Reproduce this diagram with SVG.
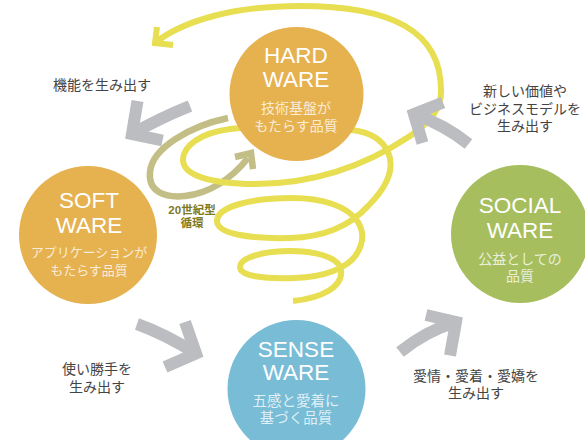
<svg xmlns="http://www.w3.org/2000/svg" width="585" height="440" viewBox="0 0 585 440">
<style>
.bg{fill:#fff}
.ga{fill:none;stroke:#BCBDC1;stroke-width:12;stroke-linejoin:miter;stroke-miterlimit:10}
.yl{fill:none;stroke:#E8DE52;stroke-width:6;stroke-linejoin:miter}
.ol{fill:none;stroke:#C3BD86;stroke-width:6.5;stroke-linejoin:miter}
.t{font-family:"Liberation Sans",Arial,"Noto Sans CJK JP",sans-serif;font-size:22.5px;fill:#fff;text-anchor:middle}
.s{font-family:"Noto Sans CJK JP",sans-serif;font-size:14px;fill:#fff;fill-opacity:0.78;text-anchor:middle}
.l{font-family:"Noto Sans CJK JP",sans-serif;font-size:14px;fill:#444;text-anchor:middle}
.o{font-family:"Liberation Sans","Noto Sans CJK JP",sans-serif;font-size:11.5px;font-weight:bold;fill:#7E7A1E;text-anchor:middle}
</style>
<rect class="bg" x="0" y="0" width="585" height="440"/>
<g id="connectors">
  <g id="olive-cycle">
    <path class="ol" d="M228,118 C190,126 152,148 150,172 C148,192 165,198 185,196 C210,193 232,178 248,158"/>
    <polyline class="ol" points="235,157 251,153 253,169"/>
  </g>
  <g id="spiral">
    <path class="yl" d="M293,301 C322,298 343,287 341,270 C339,256 312,251 290,251 C262,251 240,258 240,267 C240,276 262,279 295,278 C325,277 347,268 356,255 C364,243 364,232 358,222 C348,206 322,198 292,198 C250,198 217,207 217,221 C217,234 250,239 290,238 C325,237 350,226 368,206 C387,187 395,168 388,152 C382,139 368,132 352,130 C320,127 255,126 230,129 C200,133 183,146 183,160 C183,175 210,184 255,184 C310,184 362,168 410,136 C432,121 441,108 441,92 C442,30 390,6 300,6 C235,6 185,20 156,42"/>
    <polyline class="yl" points="157,27 155,43 173,45"/>
  </g>
</g>
<g id="hardware">
  <circle cx="296.5" cy="94" r="67" fill="#E6B14F"/>
  <text class="t" x="296" y="63">HARD<tspan x="296" y="87">WARE</tspan></text>
  <text class="s" x="296" y="113">技術基盤が<tspan x="296" y="131">もたらす品質</tspan></text>
</g>
<g id="software">
  <circle cx="88" cy="235" r="69" fill="#E6B14F"/>
  <text class="t" x="89" y="208">SOFT<tspan x="89" y="233">WARE</tspan></text>
  <text class="s" x="89" y="257" style="font-size:13px">アプリケーションが<tspan x="89" y="275">もたらす品質</tspan></text>
</g>
<g id="senseware">
  <circle cx="296.5" cy="389" r="69" fill="#78BCD6"/>
  <text class="t" x="296" y="357">SENSE<tspan x="296" y="380">WARE</tspan></text>
  <text class="s" x="296" y="406" style="font-size:14.5px">五感と愛着に<tspan x="296" y="423">基づく品質</tspan></text>
</g>
<g id="socialware">
  <circle cx="520" cy="234" r="69" fill="#A6BE5E"/>
  <text class="t" x="520" y="213">SOCIAL<tspan x="520" y="238">WARE</tspan></text>
  <text class="s" x="520" y="264">公益としての<tspan x="520" y="281">品質</tspan></text>
</g>
<g id="arrows">
  <g id="arrow-function">
    <polyline class="ga" points="137.5,101 132,134 162.5,140.5"/>
    <path class="ga" d="M132,134 Q160,118 190,106"/>
  </g>
  <g id="arrow-value">
    <polyline class="ga" points="443,102.5 414,114 422.5,143"/>
    <path class="ga" d="M414,114 Q445,125 468.5,144"/>
  </g>
  <g id="arrow-usability">
    <polyline class="ga" points="185,322 196,353.5 165,367"/>
    <path class="ga" d="M196,353.5 Q165,334 137,324"/>
  </g>
  <g id="arrow-love">
    <polyline class="ga" points="426,315 456,322 450,355.5"/>
    <path class="ga" d="M456,322 Q426,331 400,352"/>
  </g>
</g>
<g id="labels">
  <text class="l" x="102" y="90">機能を生み出す</text>
  <text class="l" x="525" y="96">新しい価値や<tspan x="525" y="114">ビジネスモデルを</tspan><tspan x="525" y="131">生み出す</tspan></text>
  <text class="l" x="97" y="374">使い勝手を<tspan x="97" y="392">生み出す</tspan></text>
  <text class="l" x="476" y="381">愛情・愛着・愛嬌を<tspan x="476" y="398">生み出す</tspan></text>
  <text class="o" x="192" y="214">20世紀型<tspan x="192" y="227">循環</tspan></text>
</g>
</svg>
